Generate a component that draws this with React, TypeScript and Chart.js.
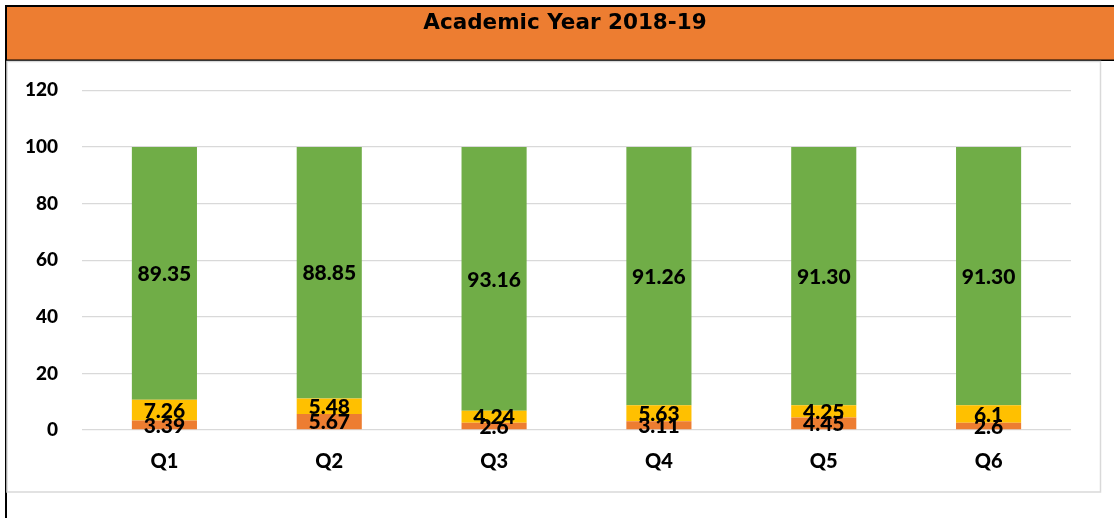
import React, { useEffect, useRef } from "react";
import { Chart, registerables } from "chart.js";

Chart.register(...registerables);

const categories = ["Q1", "Q2", "Q3", "Q4", "Q5", "Q6"];
const orangeValues = [3.39, 5.67, 2.6, 3.11, 4.45, 2.6];
const yellowValues = [7.26, 5.48, 4.24, 5.63, 4.25, 6.1];
const greenValues = [89.35, 88.85, 93.16, 91.26, 91.3, 91.3];
const orangeLabels = ["3.39", "5.67", "2.6", "3.11", "4.45", "2.6"];
const yellowLabels = ["7.26", "5.48", "4.24", "5.63", "4.25", "6.1"];
const greenLabels = ["89.35", "88.85", "93.16", "91.26", "91.30", "91.30"];
const titleText = "Academic Year 2018-19";

const ORANGE = "#ED7D31";
const YELLOW = "#FFC000";
const GREEN = "#70AD47";

const backgroundPlugin = {
  id: "frameBg",
  afterLayout(chart: any) {
    if (chart.titleBlock) {
      chart.titleBlock.left = 16;
      chart.titleBlock.right = 1114;
    }
  },
  beforeDraw(chart: any) {
    const ctx = chart.ctx;
    ctx.save();
    ctx.fillStyle = "#ffffff";
    ctx.fillRect(0, 0, chart.width, chart.height);
    // header band
    ctx.fillStyle = ORANGE;
    ctx.fillRect(6, 7, chart.width - 6, 53);
    ctx.fillStyle = "#000000";
    ctx.fillRect(5, 5, chart.width - 5, 2);
    ctx.fillRect(5, 59.5, chart.width - 5, 1.5);
    ctx.fillRect(5, 5, 2, chart.height - 5);
    // chart box
    ctx.strokeStyle = "#d9d9d9";
    ctx.lineWidth = 1.5;
    ctx.strokeRect(7, 61.5, 1093.5, 430.5);
    ctx.restore();
  },
};

const labelPlugin = {
  id: "segLabels",
  afterDatasetsDraw(chart: any) {
    const ctx = chart.ctx;
    const sets = [orangeLabels, yellowLabels, greenLabels];
    ctx.save();
    ctx.font = "900 21px Lato";
    ctx.fillStyle = "#000000";
    ctx.textAlign = "center";
    ctx.textBaseline = "middle";
    chart.data.datasets.forEach((ds: any, i: number) => {
      const meta = chart.getDatasetMeta(i);
      meta.data.forEach((el: any, j: number) => {
        const y = (el.y + el.base) / 2 + 1;
        ctx.fillText(sets[i][j], el.x, y);
      });
    });
    ctx.restore();
  },
};

export default function App() {
  const ref = useRef<HTMLCanvasElement>(null);
  useEffect(() => {
    if (!ref.current) return;
    const chart = new Chart(ref.current, {
      type: "bar",
      data: {
        labels: categories,
        datasets: [
          { data: orangeValues, backgroundColor: ORANGE, borderWidth: 0 },
          { data: yellowValues, backgroundColor: YELLOW, borderWidth: 0 },
          { data: greenValues, backgroundColor: GREEN, borderWidth: 0 },
        ],
      },
      options: {
        animation: false,
        responsive: true,
        maintainAspectRatio: false,
        layout: { padding: { left: 0, right: 43, top: 0, bottom: 28 } },
        datasets: { bar: { barPercentage: 0.395, categoryPercentage: 1 } },
        plugins: {
          legend: { display: false },
          tooltip: { enabled: false },
          title: {
            display: true,
            text: titleText,
            color: "#000000",
            font: { family: "DejaVu Sans", weight: "bold", size: 21.5 },
            padding: { top: 11, bottom: 53.5 },
          },
        },
        scales: {
          x: {
            stacked: true,
            grid: { display: false, drawTicks: false },
            border: { display: false },
            ticks: {
              color: "#000000",
              font: { family: "Lato", weight: "900", size: 20 },
              padding: 20,
            },
            afterFit(scale: any) {
              scale.height = 60;
            },
          },
          y: {
            stacked: true,
            min: 0,
            max: 120,
            grid: { color: "#d9d9d9", lineWidth: 1.3, drawTicks: false },
            border: { display: false },
            ticks: {
              stepSize: 20,
              color: "#000000",
              font: { family: "Lato", weight: "900", size: 19 },
              padding: 24,
            },
            afterFit(scale: any) {
              scale.width = 82;
            },
          },
        },
      },
      plugins: [backgroundPlugin, labelPlugin],
    });
    return () => chart.destroy();
  }, []);
  return (
    <div style={{ position: "absolute", left: 0, top: 0, width: 1114, height: 518 }}>
      <canvas ref={ref} />
    </div>
  );
}
